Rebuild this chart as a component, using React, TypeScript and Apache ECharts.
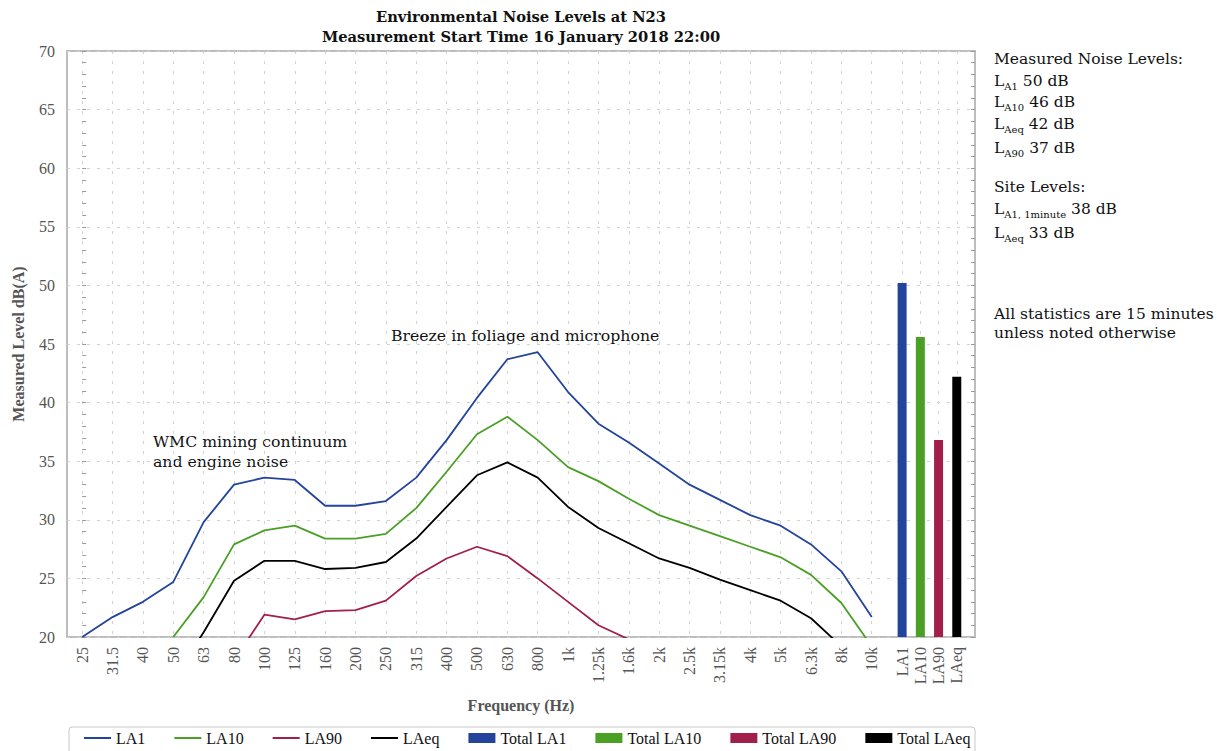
import React, { useEffect, useRef } from 'react';
import * as echarts from 'echarts';

// ---- data ----
const freqLabels = ['25', '31.5', '40', '50', '63', '80', '100', '125', '160', '200', '250', '315', '400', '500', '630', '800', '1k', '1.25k', '1.6k', '2k', '2.5k', '3.15k', '4k', '5k', '6.3k', '8k', '10k'];
const la1 = [20.0, 21.7, 23.0, 24.7, 29.8, 33.0, 33.6, 33.4, 31.2, 31.2, 31.6, 33.6, 36.8, 40.4, 43.7, 44.3, 40.9, 38.2, 36.6, 34.8, 33.0, 31.7, 30.4, 29.5, 27.9, 25.6, 21.7];
const la10 = [null, null, null, 20.0, 23.4, 27.9, 29.1, 29.5, 28.4, 28.4, 28.8, 31.0, 34.1, 37.3, 38.8, 36.8, 34.5, 33.3, 31.8, 30.4, 29.5, 28.6, 27.7, 26.8, 25.3, 22.9, 19.2];
const la90 = [null, null, null, null, null, 18.0, 21.9, 21.5, 22.2, 22.3, 23.1, 25.2, 26.7, 27.7, 26.9, 25.0, 23.0, 21.0, 19.8, null, null, null, null, null, null, null, null];
const laeq = [null, null, null, 16.5, 20.4, 24.8, 26.5, 26.5, 25.8, 25.9, 26.4, 28.4, 31.1, 33.8, 34.9, 33.6, 31.1, 29.3, 28.0, 26.7, 25.9, 24.9, 24.0, 23.1, 21.6, 19.2, null];
const totalLabels = ['LA1', 'LA10', 'LA90', 'LAeq'];
const totalValues = [50.2, 45.6, 36.8, 42.2];
const seriesNames = ['LA1', 'LA10', 'LA90', 'LAeq'];
const totalNames = ['Total LA1', 'Total LA10', 'Total LA90', 'Total LAeq'];
const yMin = 20;
const yMax = 70;
const yStep = 5;

const COLORS = ['#23449c', '#4a9f25', '#a21f4b', '#000000'];
const SERIF = '"Liberation Serif", serif';
const PROSE = '"DejaVu Serif", serif';
const LINE_ICON = 'path://M0,0M27,10M0,4h27v2h-27z';

export default function App() {
  const ref = useRef<HTMLDivElement>(null);
  useEffect(() => {
    const chart = echarts.init(ref.current!, null, { renderer: 'svg' });
    const lineX = freqLabels.map((_, i) => i);
    const barX = totalLabels.map((_, j) => freqLabels.length + 0.6 * j);
    const labelMap = new Map<string, string>();
    lineX.forEach((x, i) => labelMap.set(x.toFixed(1), freqLabels[i]));
    barX.forEach((x, j) => labelMap.set(x.toFixed(1), totalLabels[j]));
    const allX = [...lineX, ...barX];
    const toPairs = (vals: (number | null)[]) =>
      vals.map((v, i) => (v == null ? null : [i, v])).filter((p) => p !== null);
    const lineData = [la1, la10, la90, laeq];

    const subRich = {
      s: { fontFamily: PROSE, fontSize: 10, fill: '#111', verticalAlign: 'bottom', lineHeight: 15 },
    };
    const rightLines: [string, number][] = [
      ['Measured Noise Levels:', 59],
      ['L{s|A1} 50 dB', 81],
      ['L{s|A10} 46 dB', 102],
      ['L{s|Aeq} 42 dB', 124],
      ['L{s|A90} 37 dB', 148],
      ['Site Levels:', 187],
      ['L{s|A1, 1minute} 38 dB', 209],
      ['L{s|Aeq} 33 dB', 233],
      ['All statistics are 15 minutes', 314],
      ['unless noted otherwise', 333],
    ];

    const graphics: any[] = [
      {
        type: 'text', x: 521, y: 16,
        style: { text: 'Environmental Noise Levels at N23', fontFamily: PROSE, fontWeight: 'bold', fontSize: 14.7, fill: '#111', align: 'center', verticalAlign: 'middle' },
      },
      {
        type: 'text', x: 521, y: 36,
        style: { text: 'Measurement Start Time 16 January 2018 22:00', fontFamily: PROSE, fontWeight: 'bold', fontSize: 14.7, fill: '#111', align: 'center', verticalAlign: 'middle' },
      },
      {
        type: 'text', x: 391, y: 335,
        style: { text: 'Breeze in foliage and microphone', fontFamily: PROSE, fontSize: 15.7, fill: '#111', align: 'left', verticalAlign: 'middle' },
      },
      {
        type: 'text', x: 153, y: 441,
        style: { text: 'WMC mining continuum', fontFamily: PROSE, fontSize: 15.7, fill: '#111', align: 'left', verticalAlign: 'middle' },
      },
      {
        type: 'text', x: 153, y: 461,
        style: { text: 'and engine noise', fontFamily: PROSE, fontSize: 15.7, fill: '#111', align: 'left', verticalAlign: 'middle' },
      },
      {
        type: 'rect', z: 0,
        shape: { x: 69, y: 727, width: 906, height: 40, r: 3 },
        style: { fill: 'none', stroke: '#c8c8c8', lineWidth: 1 },
      },
      ...rightLines.map(([t, y]) => ({
        type: 'text', x: 994, y,
        style: { text: t, fontFamily: PROSE, fontSize: 15.5, fill: '#111', align: 'left', verticalAlign: 'middle', lineHeight: 20, rich: subRich },
      })),
    ];

    const yAxisCommon = {
      type: 'value',
      min: yMin,
      max: yMax,
      interval: yStep,
      axisLine: { show: false },
      axisTick: { show: true, inside: true, length: 4, lineStyle: { color: '#999' } },
      minorTick: { show: true, splitNumber: 5, length: 4, lineStyle: { color: '#999' } },
    };

    chart.setOption({
      animation: false,
      backgroundColor: '#fff',
      grid: {
        left: 67, top: 51, width: 908, height: 586,
        show: true, borderColor: '#bdbdbd', borderWidth: 2,
        outerBoundsMode: 'none',
      },
      graphic: graphics,
      legend: {
        left: 79, top: 725,
        itemGap: 29, itemWidth: 27, itemHeight: 10,
        textStyle: { fontFamily: SERIF, fontSize: 16, color: '#111' },
        data: [
          ...seriesNames.map((n) => ({ name: n, icon: LINE_ICON })),
          ...totalNames.map((n) => ({ name: n, icon: 'rect' })),
        ],
      },
      xAxis: {
        type: 'value',
        min: -0.5,
        max: 29.4,
        name: 'Frequency (Hz)',
        nameLocation: 'middle',
        nameGap: 60,
        nameTextStyle: { fontFamily: SERIF, fontSize: 16, fontWeight: 'bold', color: '#555' },
        axisLine: { show: false },
        axisTick: { show: false, customValues: allX },
        splitLine: { show: true, lineStyle: { color: '#d2d2d2', type: [3, 7], width: 1 } },
        axisLabel: {
          customValues: allX,
          rotate: 90,
          margin: 10,
          fontFamily: SERIF,
          fontSize: 16,
          color: '#555',
          formatter: (v: number) => labelMap.get(Number(v).toFixed(1)) ?? '',
        },
      },
      yAxis: [
        {
          ...yAxisCommon,
          position: 'left',
          name: 'Measured Level dB(A)',
          nameLocation: 'middle',
          nameGap: 41,
          nameTextStyle: { fontFamily: SERIF, fontSize: 16, fontWeight: 'bold', color: '#555' },
          axisLabel: { fontFamily: SERIF, fontSize: 16, color: '#555', margin: 12 },
          splitLine: { show: true, lineStyle: { color: '#d2d2d2', type: [3, 7], width: 1 } },
        },
        {
          ...yAxisCommon,
          position: 'right',
          axisLabel: { show: false },
          splitLine: { show: false },
        },
      ],
      series: [
        ...lineData.map((vals, k) => ({
          name: seriesNames[k],
          type: 'line',
          data: toPairs(vals),
          symbol: 'none',
          showSymbol: false,
          clip: true,
          lineStyle: { color: COLORS[k], width: 1.8 },
          itemStyle: { color: COLORS[k] },
          z: 3,
        })),
        ...totalValues.map((v, j) => ({
          name: totalNames[j],
          type: 'bar',
          stack: 'totals',
          barWidth: 9,
          data: [[barX[j], v]],
          itemStyle: { color: COLORS[j] },
          clip: true,
        })),
      ],
    });
    return () => chart.dispose();
  }, []);
  return <div ref={ref} style={{ position: 'fixed', left: 0, top: 0, width: 1217, height: 751 }} />;
}
